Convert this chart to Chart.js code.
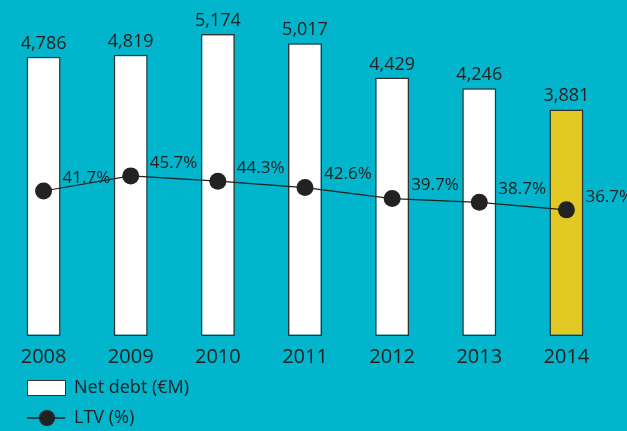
<!DOCTYPE html>
<html>
<head>
<meta charset="utf-8">
<script src="https://cdn.jsdelivr.net/npm/chart.js@4.4.0/dist/chart.umd.min.js"></script>
<style>
  html, body { margin: 0; padding: 0; background: #00b5cc; }
  canvas { display: block; }
</style>
</head>
<body>
<canvas id="myChart" width="627" height="431"></canvas>
<script>
// data
var years = ['2008', '2009', '2010', '2011', '2012', '2013', '2014'];
var netDebt = [4786, 4819, 5174, 5017, 4429, 4246, 3881];
var ltv = [41.7, 45.7, 44.3, 42.6, 39.7, 38.7, 36.7];
var debtLabels = ['4,786', '4,819', '5,174', '5,017', '4,429', '4,246', '3,881'];
var ltvLabels = ['41.7%', '45.7%', '44.3%', '42.6%', '39.7%', '38.7%', '36.7%'];

var bg = '#00b5cc';
var ink = '#222222';
var font = '"Open Sans", sans-serif';

// background + labels + legend
var extras = {
    id: 'extras',
    beforeDraw: function (chart) {
        var c = chart.ctx;
        c.save();
        c.fillStyle = bg;
        c.fillRect(0, 0, chart.width, chart.height);
        c.restore();
    },
    afterDatasetsDraw: function (chart) {
        var c = chart.ctx;
        c.save();
        c.fillStyle = ink;
        // values above the bars
        c.font = '18px ' + font;
        var bars = chart.getDatasetMeta(0).data;
        c.textAlign = 'center';
        c.textBaseline = 'alphabetic';
        bars.forEach(function (b, i) {
            c.fillText(debtLabels[i], b.x, b.y - 8);
        });
        // ltv labels
        c.font = '17px ' + font;
        var pts = chart.getDatasetMeta(1).data;
        c.textAlign = 'left';
        c.textBaseline = 'middle';
        pts.forEach(function (p, i) {
            c.fillText(ltvLabels[i], p.x + 19, p.y - 13);
        });
        c.restore();
    },
    afterDraw: function (chart) {
        var c = chart.ctx;
        c.save();
        // net debt entry
        c.fillStyle = '#ffffff';
        c.fillRect(27, 380, 38, 15);
        c.strokeStyle = '#333333';
        c.lineWidth = 1;
        c.strokeRect(27.5, 380.5, 38, 15);
        // ltv entry
        c.strokeStyle = ink;
        c.lineWidth = 1.3;
        c.beginPath();
        c.moveTo(27, 418);
        c.lineTo(65, 418);
        c.stroke();
        c.fillStyle = ink;
        c.beginPath();
        c.arc(47, 418, 8, 0, Math.PI * 2);
        c.fill();
        // texts
        c.font = '18px ' + font;
        c.textAlign = 'left';
        c.textBaseline = 'middle';
        c.fillText('Net debt (€M)', 74, 388);
        c.fillText('LTV (%)', 74, 418);
        c.restore();
    }
};

var ctx = document.getElementById('myChart');
var chart = new Chart(ctx, {
    type: 'bar',
    data: {
        labels: years,
        datasets: [{
            type: 'bar',
            label: 'Net debt (€M)',
            data: netDebt,
            yAxisID: 'y',
            backgroundColor: netDebt.map(function (v, i) { return i === netDebt.length - 1 ? '#e1c822' : '#ffffff'; }),
            borderColor: '#333333',
            borderWidth: 1.5,
            borderSkipped: false,
            categoryPercentage: 1,
            barPercentage: 0.39,
            order: 1
        }, {
            type: 'line',
            label: 'LTV (%)',
            data: ltv,
            yAxisID: 'y2',
            borderColor: ink,
            borderWidth: 1.2,
            pointRadius: 8.5,
            pointBackgroundColor: ink,
            pointBorderColor: ink,
            pointBorderWidth: 0,
            tension: 0,
            order: 0
        }]
    },
    options: {
        responsive: false,
        animation: false,
        layout: { autoPadding: false, padding: { left: 0, right: 17, top: 15, bottom: 0 } },
        plugins: {
            legend: { display: false },
            tooltip: { enabled: false }
        },
        scales: {
            x: {
                offset: true,
                grid: { display: false },
                border: { display: false },
                ticks: { color: ink, font: { family: font, size: 20 }, padding: 1 },
                afterFit: function (scale) {
                    scale.height = 95;
                    scale.paddingLeft = 0;
                    scale.paddingRight = 0;
                }
            },
            y: {
                display: false,
                min: 0,
                max: 5500
            },
            y2: {
                display: false,
                position: 'right',
                min: 3.3,
                max: 88.3
            }
        }
    },
    plugins: [extras]
});
</script>
</body>
</html>
